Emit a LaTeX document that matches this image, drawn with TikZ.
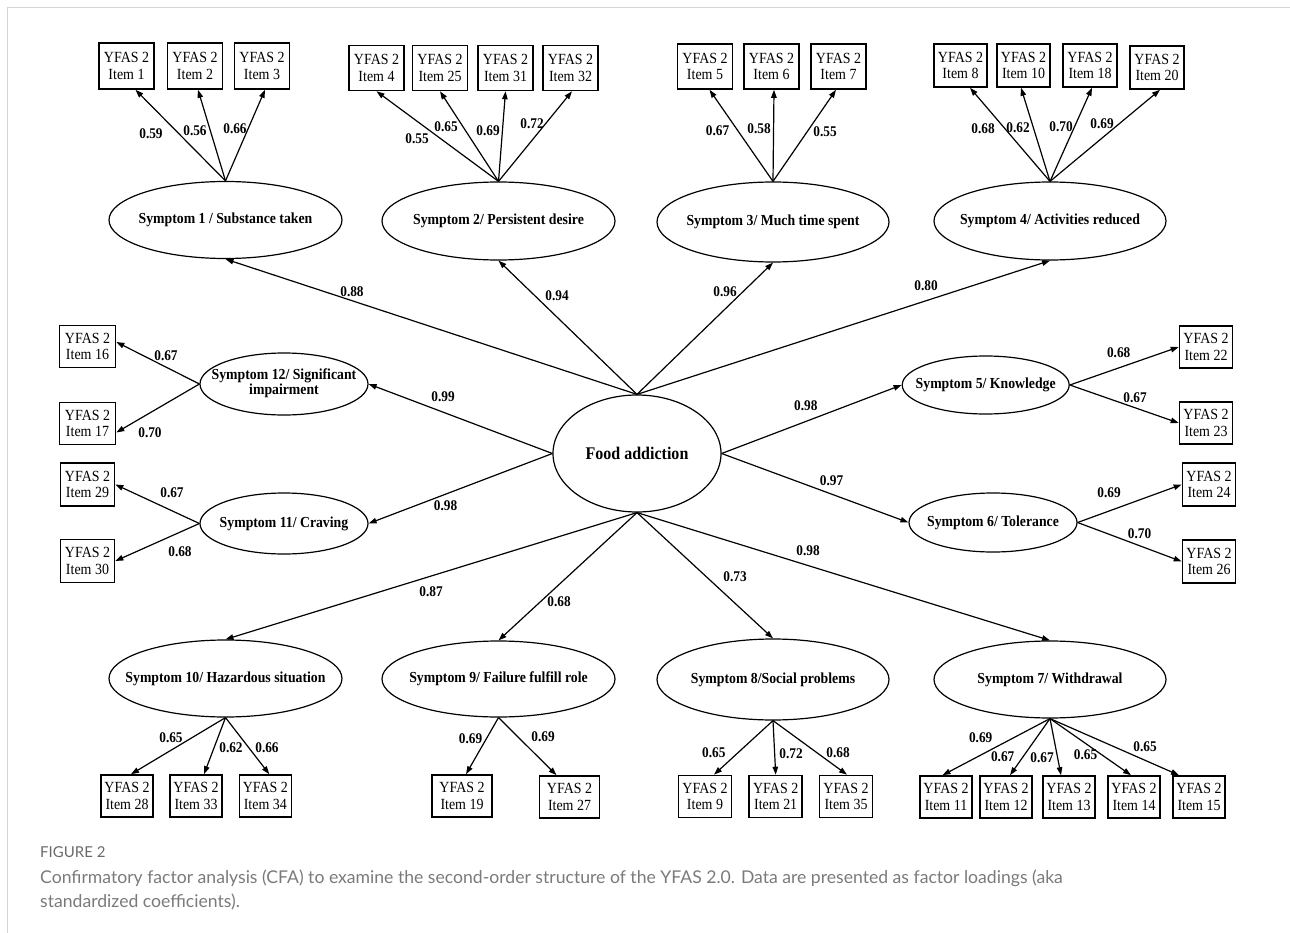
\documentclass[tikz,border=0pt]{standalone}
\usepackage{fontspec}
\setmainfont{Liberation Serif}[FakeStretch=0.9]
\newfontfamily\capfont{Lato}
\usetikzlibrary{arrows.meta,calc,shapes.geometric}
\definecolor{framegray}{HTML}{D4D4D4}
\definecolor{capgray}{HTML}{7A7A7A}
\definecolor{figgray}{HTML}{6A6A6A}
\newcommand{\zt}[1]{\makebox[0pt][c]{#1}}
\begin{document}
\begin{tikzpicture}[x=1pt,y=-1pt,
  itembox/.style={draw,line width=1.6pt,minimum width=55pt,minimum height=44pt,inner sep=0pt,align=center,font=\fontsize{15.5}{16.5}\selectfont},
  lat/.style={draw,ellipse,line width=1.2pt,inner sep=0pt,font=\bfseries\fontsize{15.3}{16}\selectfont},
  ld/.style={font=\bfseries\fontsize{14.8}{15}\selectfont,inner sep=0pt},
  arr/.style={line width=1.2pt,-{Triangle[length=8pt,width=5.5pt]}}]
\useasboundingbox (0,0) rectangle (1290,933);
\draw[framegray,line width=1.5pt] (7.5,933) -- (7.5,7.5) -- (1290,7.5);

% ---- top row items
\node[itembox,minimum height=46pt] (i1) at (126.5,66) {YFAS 2\\Item 1};
\node[itembox,minimum height=46pt] (i2) at (195,66) {YFAS 2\\Item 2};
\node[itembox,minimum height=46pt] (i3) at (262,66) {YFAS 2\\Item 3};
\node[itembox,minimum height=45pt] (i4) at (376.5,68) {YFAS 2\\Item 4};
\node[itembox,minimum height=45pt] (i25) at (440,68) {YFAS 2\\Item 25};
\node[itembox,minimum height=45pt] (i31) at (505.5,68) {YFAS 2\\Item 31};
\node[itembox,minimum height=45pt] (i32) at (570.5,68) {YFAS 2\\Item 32};
\node[itembox,minimum height=45pt] (i5) at (705,66.5) {YFAS 2\\Item 5};
\node[itembox,minimum height=45pt] (i6) at (771.5,66.5) {YFAS 2\\Item 6};
\node[itembox,minimum height=45pt] (i7) at (838.5,66.5) {YFAS 2\\Item 7};
\node[itembox,minimum width=53pt,minimum height=43pt] (i8) at (960.5,65.5) {YFAS 2\\Item 8};
\node[itembox,minimum width=53pt,minimum height=43pt] (i10) at (1023.5,65.5) {YFAS 2\\Item 10};
\node[itembox,minimum width=54pt,minimum height=43pt] (i18) at (1090,65.5) {YFAS 2\\Item 18};
\node[itembox,minimum width=54pt,minimum height=43pt] (i20) at (1157,67.5) {YFAS 2\\Item 20};

% ---- top row latent
\node[lat,minimum width=233pt,minimum height=77pt] (s1) at (225.5,220) {\zt{Symptom 1 / Substance taken}};
\node[lat,minimum width=233pt,minimum height=78pt] (s2) at (498.5,221) {\zt{Symptom 2/ Persistent desire}};
\node[lat,minimum width=232pt,minimum height=80pt] (s3) at (773,222) {\zt{Symptom 3/ Much time spent}};
\node[lat,minimum width=232pt,minimum height=78pt] (s4) at (1050,221) {\zt{Symptom 4/ Activities reduced}};

% ---- central
\node[lat,minimum width=168pt,minimum height=117pt,font=\bfseries\fontsize{17.8}{18}\selectfont] (fa) at (637,453.5) {\zt{Food addiction}};

% ---- side latent
\node[lat,minimum width=168pt,minimum height=62pt] (s12) at (284,384) {\zt{\begin{tabular}{@{}c@{}}Symptom 12/ Significant\\[-1pt]impairment\end{tabular}}};
\node[lat,minimum width=168pt,minimum height=61pt] (s11) at (284,523.5) {\zt{Symptom 11/ Craving}};
\node[lat,minimum width=167pt,minimum height=58pt] (s5) at (985.7,385) {\zt{Symptom 5/ Knowledge}};
\node[lat,minimum width=168pt,minimum height=59pt] (s6) at (993,522.5) {\zt{Symptom 6/ Tolerance}};

% ---- side items
\node[itembox,minimum width=56pt,minimum height=42pt] (i16) at (87.5,346.5) {YFAS 2\\Item 16};
\node[itembox,minimum width=56pt,minimum height=42pt] (i17) at (87.5,423.5) {YFAS 2\\Item 17};
\node[itembox,minimum width=54pt,minimum height=43pt] (i29) at (87.5,484.5) {YFAS 2\\Item 29};
\node[itembox,minimum width=54pt,minimum height=43pt] (i30) at (87.5,561) {YFAS 2\\Item 30};
\node[itembox,minimum width=53pt,minimum height=42pt] (i22) at (1206,347) {YFAS 2\\Item 22};
\node[itembox,minimum width=53pt,minimum height=42pt] (i23) at (1206,423) {YFAS 2\\Item 23};
\node[itembox,minimum width=53pt,minimum height=43pt] (i24) at (1209,484.5) {YFAS 2\\Item 24};
\node[itembox,minimum width=53pt,minimum height=43pt] (i26) at (1209,561.5) {YFAS 2\\Item 26};

% ---- bottom latent
\node[lat,minimum width=233pt,minimum height=77pt] (s10) at (225.5,678.5) {\zt{Symptom 10/ Hazardous situation}};
\node[lat,minimum width=233pt,minimum height=76pt] (s9) at (498.5,679) {\zt{Symptom 9/ Failure fulfill role}};
\node[lat,minimum width=232pt,minimum height=81pt] (s8) at (773,679.5) {\zt{Symptom 8/Social problems}};
\node[lat,minimum width=232pt,minimum height=77pt] (s7) at (1050,679.5) {\zt{Symptom 7/ Withdrawal}};

% ---- bottom items
\node[itembox,minimum width=52pt,minimum height=42pt] (i28) at (127,796) {YFAS 2\\Item 28};
\node[itembox,minimum width=52pt,minimum height=42pt] (i33) at (196,796) {YFAS 2\\Item 33};
\node[itembox,minimum width=52pt,minimum height=42pt] (i34) at (265.3,796) {YFAS 2\\Item 34};
\node[itembox,minimum width=60pt,minimum height=42pt] (i19) at (462,796) {YFAS 2\\Item 19};
\node[itembox,minimum width=60pt,minimum height=42pt] (i27) at (569.5,797) {YFAS 2\\Item 27};
\node[itembox,minimum width=53pt,minimum height=42pt] (i9) at (705,796.5) {YFAS 2\\Item 9};
\node[itembox,minimum width=53pt,minimum height=42pt] (i21) at (775.7,796.5) {YFAS 2\\Item 21};
\node[itembox,minimum width=53pt,minimum height=42pt] (i35) at (846,796.5) {YFAS 2\\Item 35};
\node[itembox,minimum width=52pt,minimum height=42pt] (i11) at (946,797) {YFAS 2\\Item 11};
\node[itembox,minimum width=52pt,minimum height=42pt] (i12) at (1006,797) {YFAS 2\\Item 12};
\node[itembox,minimum width=52pt,minimum height=42pt] (i13) at (1069,797) {YFAS 2\\Item 13};
\node[itembox,minimum width=52pt,minimum height=42pt] (i14) at (1134,797) {YFAS 2\\Item 14};
\node[itembox,minimum width=52pt,minimum height=42pt] (i15) at (1199,797) {YFAS 2\\Item 15};

% ---- connectors: top symptom -> items
\draw[arr] (s1.north) -- ($(i1.south)+(9,0)$);
\draw[arr] (s1.north) -- ($(i2.south)+(3,0)$);
\draw[arr] (s1.north) -- ($(i3.south)+(3,0)$);
\draw[arr] (s2.north) -- (i4.south);
\draw[arr] (s2.north) -- (i25.south);
\draw[arr] (s2.north) -- (i31.south);
\draw[arr] (s2.north) -- ($(i32.south)+(1.5,0)$);
\draw[arr] (s3.north) -- ($(i5.south)+(4.5,0)$);
\draw[arr] (s3.north) -- ($(i6.south)+(2.5,0)$);
\draw[arr] (s3.north) -- ($(i7.south)+(-2.5,0)$);
\draw[arr] (s4.north) -- ($(i8.south)+(9.5,0)$);
\draw[arr] (s4.north) -- ($(i10.south)+(-2.5,0)$);
\draw[arr] (s4.north) -- ($(i18.south)+(2,0)$);
\draw[arr] (s4.north) -- ($(i20.south)+(3,0)$);

% ---- central -> symptoms
\draw[arr] (fa.north) -- (s1.south);
\draw[arr] (fa.north) -- (s2.south);
\draw[arr] (fa.north) -- (s3.south);
\draw[arr] (fa.north) -- (s4.south);
\draw[arr] (fa.west) -- (s12.east);
\draw[arr] (fa.west) -- (s11.east);
\draw[arr] (fa.east) -- (s5.west);
\draw[arr] (fa.east) -- (s6.west);
\draw[arr] (fa.south) -- (s10.north);
\draw[arr] (fa.south) -- (s9.north);
\draw[arr] (fa.south) -- (s8.north);
\draw[arr] (fa.south) -- (s7.north);

% ---- side symptom -> items
\draw[arr] (s12.west) -- ($(i16.east)+(0,-4.5)$);
\draw[arr] (s12.west) -- ($(i17.east)+(0,9)$);
\draw[arr] (s11.west) -- (i29.east);
\draw[arr] (s11.west) -- (i30.east);
\draw[arr] (s5.east) -- (i22.west);
\draw[arr] (s5.east) -- (i23.west);
\draw[arr] (s6.east) -- (i24.west);
\draw[arr] (s6.east) -- (i26.west);

% ---- bottom symptom -> items
\draw[arr] (s10.south) -- ($(i28.north)+(4,0)$);
\draw[arr] (s10.south) -- ($(i33.north)+(8,0)$);
\draw[arr] (s10.south) -- ($(i34.north)+(4,0)$);
\draw[arr] (s9.south) -- ($(i19.north)+(4,0)$);
\draw[arr] (s9.south) -- ($(i27.north)+(-13,0)$);
\draw[arr] (s8.south) -- ($(i9.north)+(9,0)$);
\draw[arr] (s8.south) -- (i21.north);
\draw[arr] (s8.south) -- ($(i35.north)+(1,0)$);
\draw[arr] (s7.south) -- ($(i11.north)+(-3.5,0)$);
\draw[arr] (s7.south) -- ($(i12.north)+(4,0)$);
\draw[arr] (s7.south) -- ($(i13.north)+(-8,0)$);
\draw[arr] (s7.south) -- ($(i14.north)+(-3,0)$);
\draw[arr] (s7.south) -- ($(i15.north)+(-20,0)$);

% ---- loading labels
\node[ld] (l1) at (151,134) {0.59};
\node[ld] (l2) at (195,131) {0.56};
\node[ld] (l3) at (235,129) {0.66};
\node[ld] (l4) at (417,139) {0.55};
\node[ld] (l25) at (446,127) {0.65};
\node[ld] (l31) at (488,131) {0.69};
\node[ld] (l32) at (532,124) {0.72};
\node[ld] (l5) at (717.5,131) {0.67};
\node[ld] (l6) at (759,129) {0.58};
\node[ld] (l7) at (825,132) {0.55};
\node[ld] (l8) at (983,129) {0.68};
\node[ld] (l10) at (1018,128) {0.62};
\node[ld] (l18) at (1061,127) {0.70};
\node[ld] (l20) at (1102,124) {0.69};
\node[ld] (ls1) at (352,292) {0.88};
\node[ld] (ls2) at (557,296) {0.94};
\node[ld] (ls3) at (725,292) {0.96};
\node[ld] (ls4) at (926,286) {0.80};
\node[ld] (ls12) at (443,397) {0.99};
\node[ld] (ls11) at (445.6,506) {0.98};
\node[ld] (ls5) at (805.8,406) {0.98};
\node[ld] (ls6) at (831.5,481) {0.97};
\node[ld] (ls10) at (431,592) {0.87};
\node[ld] (ls9) at (559,602) {0.68};
\node[ld] (ls8) at (735,577) {0.73};
\node[ld] (ls7) at (808,551) {0.98};
\node[ld] (l16) at (166,356) {0.67};
\node[ld] (l17) at (150,433) {0.70};
\node[ld] (l29) at (172,493) {0.67};
\node[ld] (l30) at (180,552) {0.68};
\node[ld] (l22) at (1118.7,353) {0.68};
\node[ld] (l23) at (1135,398) {0.67};
\node[ld] (l24) at (1109,493) {0.69};
\node[ld] (l26) at (1139.5,534) {0.70};
\node[ld] (l28) at (171,738) {0.65};
\node[ld] (l33) at (231,748) {0.62};
\node[ld] (l34) at (267,748) {0.66};
\node[ld] (l19) at (470.5,739) {0.69};
\node[ld] (l27) at (543,737) {0.69};
\node[ld] (l9) at (713.8,753) {0.65};
\node[ld] (l21) at (791,754) {0.72};
\node[ld] (l35) at (838,753) {0.68};
\node[ld] (l11) at (980.7,738) {0.69};
\node[ld] (l12) at (1002.7,757) {0.67};
\node[ld] (l13) at (1042,758) {0.67};
\node[ld] (l14) at (1085.6,755) {0.65};
\node[ld] (l15) at (1145,747) {0.65};

% ---- caption
\node[anchor=base west,inner sep=0pt,font=\capfont\fontsize{15}{18}\selectfont,text=figgray] (fig) at (40,857) {FIGURE 2};
\node[anchor=base west,inner sep=0pt,font=\capfont\fontsize{17.6}{24}\selectfont,text=capgray] (cap1) at (40,883) {Confirmatory factor analysis (CFA) to examine the second-order structure of the YFAS 2.0. Data are presented as factor loadings (aka};
\node[anchor=base west,inner sep=0pt,font=\capfont\fontsize{17.6}{24}\selectfont,text=capgray] (cap2) at (40,907) {standardized coefficients).};
\end{tikzpicture}
\end{document}
